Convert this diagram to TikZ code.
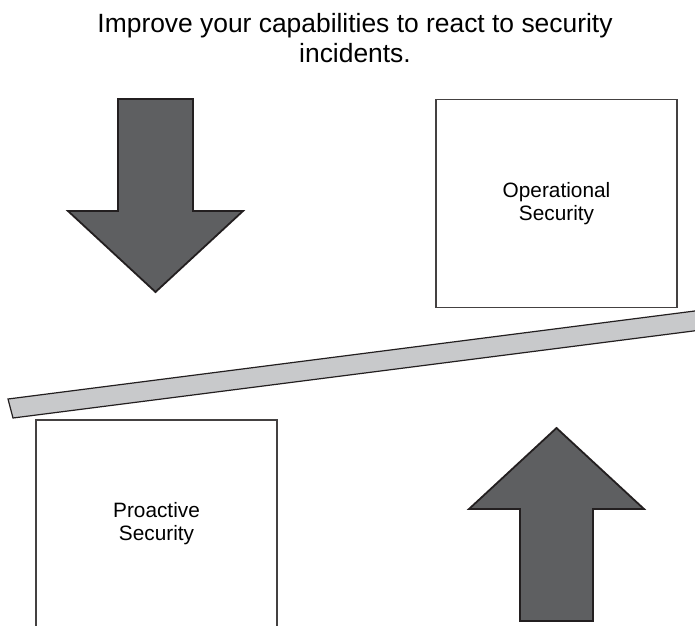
\documentclass[tikz,border=0pt]{standalone}
\usepackage{fontspec}
\setmainfont{Liberation Sans}
\definecolor{arrowgray}{HTML}{5E5F61}
\definecolor{beamgray}{HTML}{C8C9CB}
\definecolor{inkblack}{HTML}{231F20}
\begin{document}
\begin{tikzpicture}[x=1pt, y=-1pt,
  secbox/.style={draw=inkblack!85, line width=1.2pt, fill=white, align=center,
    minimum width=241pt, minimum height=208pt, inner sep=0pt,
    font=\fontsize{20.8}{23}\selectfont},
  bigarrow/.style={draw=inkblack, line width=1.8pt, fill=arrowgray, line join=miter}]
\useasboundingbox (0,0) rectangle (695,625);
\clip (0,0) rectangle (695,625);

\node[align=center, inner sep=0pt, font=\fontsize{26.4}{30}\selectfont] (title) at (355,38.4)
  {Improve your capabilities to react to security\\incidents.};

% arrow pushing down
\draw[bigarrow] (118,99) -- (193,99) -- (193,211) -- (243,211) -- (155.5,292)
  -- (68,211) -- (118,211) -- cycle;

\node[secbox] (opsec) at (556.5,203.5) {Operational\\Security};

% the seesaw beam
\draw[draw=inkblack, line width=1.2pt, fill=beamgray]
  (8,399) -- (722,307.5) -- (724.5,327) -- (13,418) -- cycle;

\node[secbox] (prosec) at (156.5,524) {Proactive\\Security};

% arrow pushing up
\draw[bigarrow] (520,621) -- (593,621) -- (593,509) -- (644,509) -- (556.5,428)
  -- (469,509) -- (520,509) -- cycle;
\end{tikzpicture}
\end{document}
